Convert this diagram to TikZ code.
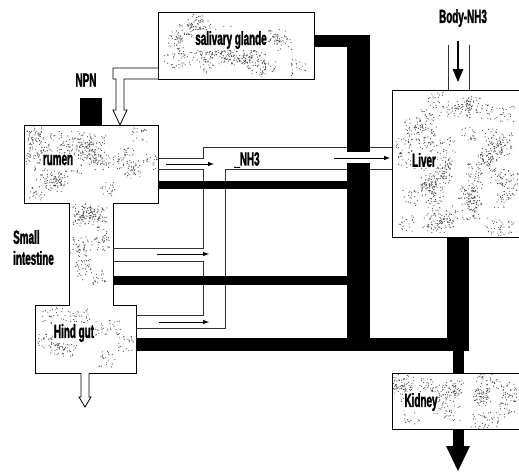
\documentclass[tikz,border=0pt]{standalone}
\usepackage{fontspec}
\newfontfamily\lblfont[FakeStretch=0.52,FakeBold=1.5]{Liberation Sans Bold}
\usepackage{tikz}
\usetikzlibrary{arrows}

% little random clumps of dots, the grainy fill of the organ boxes
\newcommand{\speckle}[5]{%
  \foreach \k in {1,...,#5}{%
    \pgfmathsetmacro{\cx}{#1+8+rnd*(#3-#1-16)}%
    \pgfmathsetmacro{\cy}{#2+8+rnd*(#4-#2-16)}%
    \foreach \j in {1,...,20}{%
      \fill[black!70] (\cx+8*rand,\cy+8*rand) circle (0.6pt);
    }%
  }%
}

\begin{document}
\begin{tikzpicture}[x=1pt,y=-1pt,
  organ/.style={draw,fill=white,line width=0.9pt},
  lbl/.style={font=\lblfont\fontsize{19}{21}\selectfont,inner sep=1pt},
  wall/.style={draw=black!80,line width=0.8pt},
  flow/.style={-latex,line width=1pt}]
 \useasboundingbox (0,0) rectangle (519,471);
 \pgfmathsetseed{11}
 % organ boxes
 \draw[organ] (158,12) rectangle (314,79);
 \draw[organ] (24,125) -- (158,125) -- (158,203) -- (113,203) -- (113,305)
   -- (136,305) -- (136,373) -- (35,373) -- (35,305) -- (69,305) -- (69,203)
   -- (24,203) -- cycle;
 \draw[organ] (392,90) rectangle (521,237);
 \draw[organ] (392,373) rectangle (521,429);
 \speckle{158}{12}{314}{79}{32}
 \speckle{24}{125}{158}{203}{32}
 \speckle{69}{203}{113}{305}{14}
 \speckle{35}{305}{136}{373}{12}
 \speckle{392}{90}{519}{237}{60}
 \speckle{392}{373}{519}{429}{24}
% thin NH3 channels
 \draw[wall] (158,158) -- (203,158) -- (203,147) -- (392,147);
 \draw[wall] (158,169) -- (203,169) -- (203,248) -- (113,248);
 \draw[wall] (113,261) -- (203,261) -- (203,315) -- (136,315);
 \draw[wall] (136,328) -- (225,328) -- (225,169) -- (392,169);
 \draw[wall] (448,45) -- (448,90);
 \draw[wall] (469,45) -- (469,90);
 \draw[flow] (166,164) -- (214,164);
 \draw[flow] (334,158) -- (390,158);
 \draw[flow] (157,254) -- (209,254);
 \draw[flow] (159,322) -- (209,322);
 \draw[-triangle 45,line width=2pt] (458,41) -- (458,82);
% urea (black bars)
 \fill (80,98) rectangle (102,125);
 \fill (314,35) rectangle (370,47);
 \fill (347,35) rectangle (370,152);
 \fill (347,163) rectangle (370,351);
 \fill (158,181) rectangle (347,189);
 \fill (113,276) rectangle (347,285);
 \fill (136,338) rectangle (469,351);
 \fill (447,237) rectangle (469,351);
 \fill (453,351) rectangle (464,373);
 \fill (453,429) rectangle (464,446);
 \fill (446,446) -- (470,446) -- (458,471) -- cycle;
% hollow pipes
 \draw[fill=white,line width=0.8pt] (158,68) -- (113,68) -- (113,79) -- (116,79)
   -- (116,110) -- (113,110) -- (120,125) -- (127,110) -- (124,110) -- (124,79)
   -- (158,79);
 \draw[fill=white,line width=0.8pt] (81,373) -- (81,397) -- (79,397) -- (85,407)
   -- (91,397) -- (89,397) -- (89,373);
% labels
 \node[lbl,fill=white] (sal) at (231,40) {salivary glande};
 \node[lbl] (npn) at (86,80) {NPN};
 \node[lbl,fill=white] (rum) at (58,160) {rumen};
 \node[lbl] (nh3) at (247,160) {\_NH3};
 \node[lbl,anchor=west] (si1) at (12,237) {Small};
 \node[lbl,anchor=west] (si2) at (12,258) {intestine};
 \node[lbl,fill=white] (hg) at (74,333) {Hind gut};
 \node[lbl,fill=white] (liv) at (424,160) {Liver};
 \node[lbl] (body) at (463,18) {Body-NH3};
 \node[lbl,fill=white] (kid) at (421,402) {Kidney};
\end{tikzpicture}
\end{document}
